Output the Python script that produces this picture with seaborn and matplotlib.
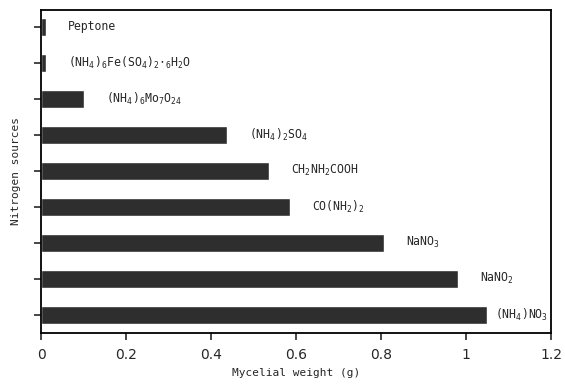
import matplotlib
matplotlib.use("Agg")
import matplotlib.pyplot as plt
import matplotlib.ticker as mticker
import seaborn as sns
import pandas as pd

# nitrogen sources (top to bottom) and mycelial weight (g)
sources = ["Peptone", "(NH4)6Fe(SO4)2.6H2O", "(NH4)6Mo7O24", "(NH4)2SO4",
           "CH2NH2COOH", "CO(NH2)2", "NaNO3", "NaNO2", "(NH4)NO3"]
labels = ["Peptone",
          r"(NH$_4$)$_6$Fe(SO$_4$)$_2$$\cdot$$_6$H$_2$O",
          r"(NH$_4$)$_6$Mo$_7$O$_{24}$",
          r"(NH$_4$)$_2$SO$_4$",
          r"CH$_2$NH$_2$COOH",
          r"CO(NH$_2$)$_2$",
          r"NaNO$_3$",
          r"NaNO$_2$",
          r"(NH$_4$)NO$_3$"]
weight = [0.012, 0.012, 0.10, 0.437, 0.536, 0.586, 0.807, 0.981, 1.05]
xticks = [0, 0.2, 0.4, 0.6, 0.8, 1.0, 1.2]

df = pd.DataFrame({"source": sources, "weight": weight})

sns.set_style("ticks")
plt.rcParams["font.family"] = ["DejaVu Sans"]
plt.rcParams["mathtext.fontset"] = "custom"
plt.rcParams["mathtext.rm"] = "DejaVu Sans Mono"
plt.rcParams["mathtext.default"] = "rm"

fig = plt.figure(figsize=(5.65, 3.84), dpi=100)
ax = fig.add_axes([0.0726, 0.133, 0.9026, 0.841])

sns.barplot(data=df, x="weight", y="source", orient="h", color="#2e2e2e",
            width=0.5, saturation=1, ax=ax)

xmax = 1.2
for i, (v, lab) in enumerate(zip(weight, labels)):
    if v + 0.2 > xmax:
        ax.annotate(lab, (xmax, i), xytext=(-2, 0), textcoords="offset points",
                    ha="right", va="center", fontsize=8.3, family="DejaVu Sans Mono")
    else:
        ax.annotate(lab, (v, i), xytext=(16, 0), textcoords="offset points",
                    ha="left", va="center", fontsize=8.3, family="DejaVu Sans Mono")

ax.set_xlim(0, xmax)
ax.set_ylim(8.5, -0.47)
ax.set_xticks(xticks)
ax.xaxis.set_major_formatter(mticker.FormatStrFormatter("%g"))
ax.set_yticklabels([])
ax.tick_params(axis="x", length=5, width=1.2, labelsize=10, pad=6)
ax.tick_params(axis="y", length=5, width=1.2)
for s in ax.spines.values():
    s.set_visible(True)
    s.set_linewidth(1.3)
    s.set_color("black")

ax.set_xlabel("Mycelial weight (g)", family="DejaVu Sans Mono", fontsize=8, labelpad=4)
ax.set_ylabel("Nitrogen sources", family="DejaVu Sans Mono", fontsize=8, labelpad=6)

fig.savefig("out.png", dpi=100)
